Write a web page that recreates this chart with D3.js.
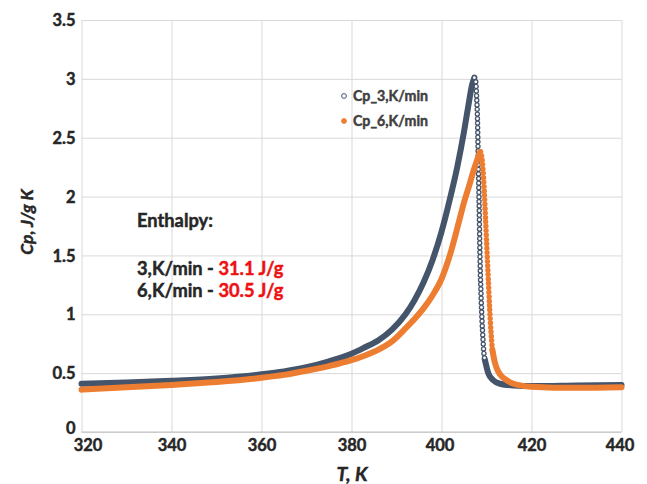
<!DOCTYPE html>
<html>
<head>
<meta charset="utf-8">
<script src="https://cdn.jsdelivr.net/npm/d3@7/dist/d3.min.js"></script>
<style>
  html, body { margin: 0; padding: 0; background: #fff; }
  svg { display: block; font-family: Lato, "Open Sans", sans-serif; }
  .heavy { paint-order: stroke; stroke-width: 0.45px; }
</style>
</head>
<body>
<svg id="chart" width="647" height="484"></svg>
<script>
// ---- data ----
const xTicks = [320, 340, 360, 380, 400, 420, 440];
const yTicks = [0, 0.5, 1, 1.5, 2, 2.5, 3, 3.5];
const yTickLabels = ["0", "0.5", "1", "1.5", "2", "2.5", "3", "3.5"];
const seriesNames = ["Cp_3,K/min", "Cp_6,K/min"];

// Cp_3,K/min : [T (K), Cp (J/g K)]
const cp3Rise = [
  [320, 0.41], [330, 0.42], [340, 0.435], [350, 0.455], [360, 0.49], [365, 0.515],
  [370, 0.55], [375, 0.60], [380, 0.665], [383, 0.72], [386, 0.78], [389, 0.87],
  [392, 1.00], [394, 1.12], [396, 1.27], [398, 1.46], [400, 1.70], [402, 2.00],
  [403.5, 2.25], [405, 2.55], [406, 2.78], [406.8, 2.95], [407.3, 3.01]
];
const cp3Fall = [
  [407.3, 3.01], [407.6, 2.98], [407.8, 2.85], [408.0, 2.65], [408.1, 2.45], [408.2, 2.25],
  [408.3, 2.05], [408.4, 1.85], [408.5, 1.60], [408.6, 1.40], [408.8, 1.15],
  [409.0, 0.95], [409.2, 0.80], [409.4, 0.68], [409.6, 0.62]
];
const cp3Tail = [
  [409.6, 0.62], [410.4, 0.50], [411.5, 0.44], [413, 0.41], [416, 0.395], [420, 0.39],
  [430, 0.395], [440, 0.40]
];

// Cp_6,K/min
const cp6Rise = [
  [320, 0.36], [330, 0.38], [340, 0.40], [350, 0.425], [360, 0.46], [365, 0.485],
  [370, 0.52], [375, 0.56], [380, 0.61], [383, 0.65], [386, 0.70], [389, 0.77],
  [392, 0.88], [394, 0.96], [396, 1.05], [398, 1.16], [400, 1.30], [402, 1.52],
  [403.7, 1.76], [405, 1.95], [406.2, 2.10], [407.2, 2.23], [408, 2.32], [408.6, 2.38]
];
const cp6Fall = [
  [408.6, 2.38], [408.9, 2.35], [409.2, 2.24], [409.5, 2.05], [409.8, 1.80], [410.1, 1.55],
  [410.4, 1.30], [410.7, 1.05], [411.0, 0.85], [411.3, 0.70]
];
const cp6Tail = [
  [411.3, 0.70], [411.8, 0.60], [412.4, 0.53], [413, 0.49], [414.5, 0.44], [416, 0.41],
  [420, 0.385], [430, 0.375], [440, 0.38]
];

const enthalpyTitle = "Enthalpy:";
const enthalpyRates = ["3,K/min - ", "6,K/min - "];
const enthalpyValues = ["31.1 J/g", "30.5 J/g"];

// ---- styles ----
const colDark = "#44546a";
const colOrange = "#ed7d31";
const gridCol = "#d9d9d9";
const textCol = "#262626";

const svg = d3.select("#chart");
const x = d3.scaleLinear().domain([320, 440]).range([81.5, 621.5]);
const y = d3.scaleLinear().domain([0, 3.5]).range([432, 20]);

// grid + axes
const xAxis = svg.append("g").attr("transform", `translate(0,${y(0)})`)
  .call(d3.axisBottom(x).tickValues(xTicks).tickSize(-(y(0) - y(3.5))).tickFormat(d3.format("d")));
xAxis.select(".domain").remove();
xAxis.selectAll("line").attr("stroke", gridCol).attr("stroke-width", 1);
xAxis.selectAll("text")
  .attr("class", "heavy").attr("stroke", textCol)
  .attr("y", 19).attr("dy", 0)
  .attr("dx", d => d === 320 ? 6 : (d === 440 || d === 400 ? -2 : 0))
  .attr("fill", textCol).attr("font-size", 16.5).attr("font-weight", "bold")
  .attr("font-family", "Lato, sans-serif");

const yAxis = svg.append("g").attr("transform", `translate(${x(320)},0)`)
  .call(d3.axisLeft(y).tickValues(yTicks).tickSize(-(x(440) - x(320))).tickFormat((d, i) => yTickLabels[i]));
yAxis.select(".domain").remove();
yAxis.selectAll("line").attr("stroke", gridCol).attr("stroke-width", 1);
yAxis.selectAll("text")
  .attr("class", "heavy").attr("stroke", textCol)
  .attr("x", -6).attr("dy", "0.34em")
  .attr("fill", textCol).attr("font-size", 16.5).attr("font-weight", "bold")
  .attr("font-family", "Lato, sans-serif");
yAxis.selectAll(".tick").filter(d => d === 0).select("text").attr("dy", "0.1em");

// bottom axis line
svg.append("line").attr("x1", x(320)).attr("x2", x(440)).attr("y1", y(0)).attr("y2", y(0))
  .attr("stroke", "#bfbfbf").attr("stroke-width", 1);

// ---- series ----
const line = d3.line().x(d => x(d[0])).y(d => y(d[1])).curve(d3.curveMonotoneX);
const plot = svg.append("g");

function solid(data, col) {
  plot.append("path").datum(data).attr("d", line)
    .attr("fill", "none").attr("stroke", col).attr("stroke-width", 6)
    .attr("stroke-linecap", "round").attr("stroke-linejoin", "round");
}
function dotted(data, col, gap, hollow) {
  plot.append("path").datum(data).attr("d", line)
    .attr("fill", "none").attr("stroke", col).attr("stroke-width", 5.4)
    .attr("stroke-linecap", "round").attr("stroke-dasharray", `0 ${gap}`);
  if (hollow) {
    plot.append("path").datum(data).attr("d", line)
      .attr("fill", "none").attr("stroke", "#fff").attr("stroke-width", 2.8)
      .attr("stroke-linecap", "round").attr("stroke-dasharray", `0 ${gap}`);
  }
}

solid(cp3Rise, colDark);
solid(cp3Tail, colDark);
dotted(cp3Fall, colDark, 4.6, true);
solid(cp6Rise, colOrange);
solid(cp6Tail, colOrange);
dotted(cp6Fall, colOrange, 4.4, false);

// ---- legend ----
const legend = svg.append("g").attr("transform", "translate(344,96)");
seriesNames.forEach((name, i) => {
  const g = legend.append("g").attr("transform", `translate(0,${i * 25})`);
  g.append("circle").attr("r", 2.4)
    .attr("fill", i === 0 ? "#fff" : colOrange)
    .attr("stroke", i === 0 ? colDark : colOrange).attr("stroke-width", 1);
  g.append("text").attr("x", 9).attr("dy", "0.35em")
    .attr("class", "heavy").attr("stroke", "#404040")
    .attr("font-size", 14.2).attr("font-weight", "bold").attr("fill", "#404040")
    .text(name);
});

// ---- enthalpy annotation ----
const ann = svg.append("g").attr("font-size", 18.3).attr("font-weight", "bold");
ann.append("text").attr("x", 137).attr("y", 227).attr("fill", textCol)
  .attr("class", "heavy").attr("stroke", textCol).text(enthalpyTitle);
enthalpyRates.forEach((r, i) => {
  const t = ann.append("text").attr("x", 137).attr("y", 275 + i * 22);
  t.append("tspan").attr("fill", textCol).attr("class", "heavy").attr("stroke", textCol).text(r);
  t.append("tspan").attr("fill", "#ee1111").attr("class", "heavy").attr("stroke", "#ee1111").text(enthalpyValues[i]);
});

// ---- axis titles ----
svg.append("text").attr("transform", `translate(33,222) rotate(-90)`)
  .attr("class", "heavy").attr("stroke", textCol)
  .attr("text-anchor", "middle").attr("font-size", 17.5).attr("font-weight", "bold")
  .attr("font-style", "italic").attr("fill", textCol).text("Cp, J/g K");
svg.append("text").attr("x", 352).attr("y", 481)
  .attr("class", "heavy").attr("stroke", textCol)
  .attr("text-anchor", "middle").attr("font-size", 19.5).attr("font-weight", "bold")
  .attr("font-style", "italic").attr("fill", textCol).text("T, K");
</script>
</body>
</html>
